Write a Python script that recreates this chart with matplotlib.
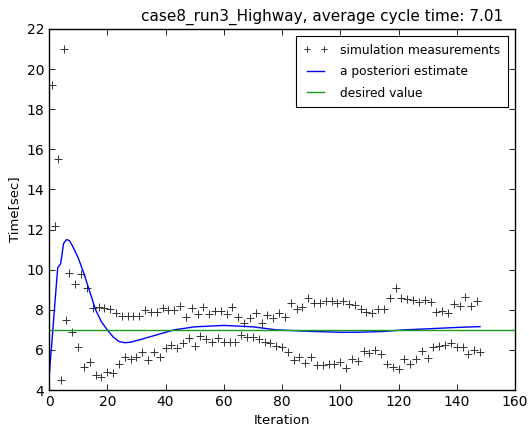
import matplotlib
matplotlib.use('Agg')
import matplotlib.pyplot as plt
import numpy as np

title = 'case8_run3_Highway, average cycle time: 7.01'
desired = 7.0

# measured cycle times, odd iterations (1, 3, ..., 147)
odd_meas = [19.2, 15.5, 21.0, 9.85, 9.3, 9.8, 9.1, 8.1, 8.15, 8.1,
            8.05, 7.85, 7.7, 7.7, 7.7, 7.7, 8.0, 7.9, 7.9, 8.1,
            8.0, 8.0, 8.2, 7.65, 8.07, 7.8, 8.15, 7.77, 7.95, 7.95,
            7.8, 8.12, 7.65, 7.32, 7.57, 7.83, 7.35, 7.74, 7.57, 7.85,
            7.62, 8.32, 8.02, 8.15, 8.57, 8.32, 8.32, 8.42, 8.45, 8.35,
            8.45, 8.29, 8.24, 8.02, 7.9, 7.85, 8.02, 8.02, 8.57, 9.07,
            8.6, 8.52, 8.49, 8.39, 8.49, 8.39, 7.9, 7.94, 7.85, 8.29,
            8.19, 8.62, 8.19, 8.44]
# measured cycle times, even iterations (2, 4, ..., 148)
even_meas = [12.2, 4.5, 7.5, 6.88, 6.15, 5.13, 5.41, 4.75, 4.63, 4.91,
             4.83, 5.32, 5.65, 5.53, 5.63, 5.91, 5.5, 5.91, 5.66, 6.11,
             6.24, 6.08, 6.33, 6.6, 6.21, 6.69, 6.52, 6.41, 6.58, 6.41,
             6.41, 6.41, 6.74, 6.63, 6.63, 6.55, 6.41, 6.36, 6.19, 6.16,
             5.91, 5.5, 5.66, 5.33, 5.63, 5.25, 5.25, 5.28, 5.3, 5.4,
             5.1, 5.53, 5.46, 5.96, 5.83, 6.0, 5.79, 5.3, 5.16, 5.03,
             5.53, 5.3, 5.53, 5.96, 5.58, 6.13, 6.19, 6.24, 6.33, 6.13,
             6.13, 5.79, 5.99, 5.91]

# a posteriori estimate
est_iter = [0, 1, 2, 3, 4, 5, 6, 7, 8, 10, 12, 14, 16, 18, 20, 22, 24, 26,
            28, 31, 37, 43, 50, 60, 70, 78, 90, 100, 106, 115, 122, 130,
            140, 148]
est_val = [4.6, 6.4, 8.3, 10.1, 10.3, 11.3, 11.5, 11.45, 11.2, 10.6, 9.8,
           8.9, 8.0, 7.4, 7.0, 6.65, 6.42, 6.36, 6.38, 6.5, 6.75, 7.0,
           7.15, 7.22, 7.15, 7.0, 6.92, 6.88, 6.88, 6.92, 7.0, 7.05,
           7.12, 7.16]

meas = np.empty(len(odd_meas) + len(even_meas))
meas[0::2] = odd_meas
meas[1::2] = even_meas
iters = np.arange(1, len(meas) + 1)

plt.rcParams['font.family'] = 'DejaVu Sans'
plt.rcParams['font.size'] = 9.5

fig = plt.figure(figsize=(5.29, 4.30), dpi=100)
ax = fig.add_axes([49 / 529., 1 - 390 / 430., 466 / 529., 361 / 430.])

ax.plot(iters, meas, '+', color='#333333', ms=6, mew=0.7,
        label='simulation measurements')
ax.plot(est_iter, est_val, color='b', lw=1.0, label='a posteriori estimate')
ax.plot([0, 160], [desired, desired], color='#1a9e1a', lw=1.0,
        label='desired value')

ax.set_xlim(0, 160)
ax.set_ylim(4, 22)
ax.set_xticks(np.arange(0, 161, 20))
ax.set_yticks(np.arange(4, 23, 2))
ax.tick_params(direction='in', top=True, right=True, length=4, width=0.6,
               labelsize=10)
for s in ax.spines.values():
    s.set_linewidth(1.0)

ax.set_title(title, fontsize=11, x=0.586)
ax.set_xlabel('Iteration')
ax.set_ylabel('Time[sec]')

leg = ax.legend(loc='upper right', numpoints=2, fancybox=False,
                framealpha=1, edgecolor='black', fontsize=8.8,
                handlelength=2.0, handletextpad=1.0, labelspacing=0.7,
                borderpad=0.6, borderaxespad=0.6,
                markerscale=0.8)
leg.get_frame().set_linewidth(0.8)

fig.savefig('out.png', dpi=100)
